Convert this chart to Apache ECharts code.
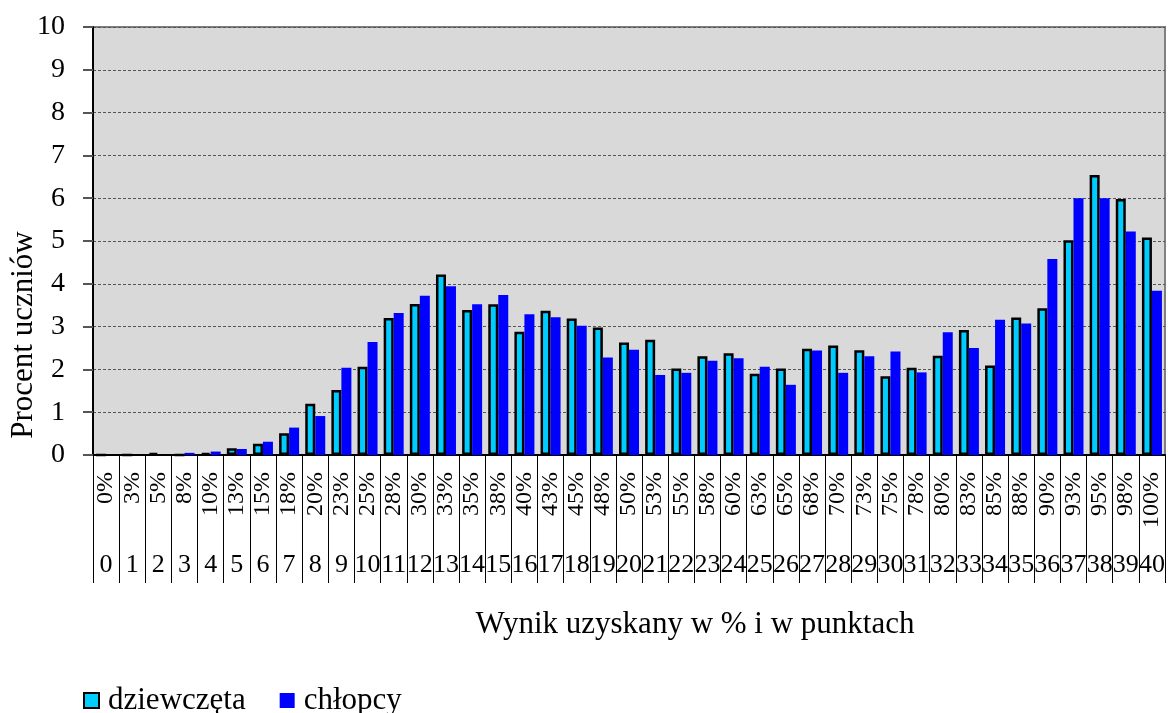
<!DOCTYPE html>
<html lang="pl">
<head>
    <meta charset="utf-8">
    <title>Wynik uzyskany w % i w punktach</title>
    <script src="https://cdn.jsdelivr.net/npm/echarts@6/dist/echarts.min.js"></script>
    <style>
        html, body { margin: 0; padding: 0; background: #fff; }
        #chart { width: 1168px; height: 713px; }
    </style>
</head>
<body>
<div id="chart"></div>

<script>
    // categories: percent score and points
    var percentLabels = ['0%','3%','5%','8%','10%','13%','15%','18%','20%','23%','25%','28%','30%','33%','35%','38%',
        '40%','43%','45%','48%','50%','53%','55%','58%','60%','63%','65%','68%','70%','73%','75%','78%',
        '80%','83%','85%','88%','90%','93%','95%','98%','100%'];
    var pointLabels = ['0','1','2','3','4','5','6','7','8','9','10','11','12','13','14','15','16','17','18','19','20',
        '21','22','23','24','25','26','27','28','29','30','31','32','33','34','35','36','37','38','39','40'];

    // percent of students
    var girls = [0, 0, 0.05, 0, 0.05, 0.16, 0.26, 0.51, 1.2, 1.52, 2.06, 3.2, 3.53, 4.22, 3.39, 3.52,
        2.88, 3.37, 3.19, 2.98, 2.63, 2.69, 2.02, 2.31, 2.38, 1.9, 2.02, 2.48, 2.56, 2.45, 1.84, 2.04,
        2.32, 2.92, 2.09, 3.21, 3.43, 5.02, 6.54, 5.98, 5.08];
    var boys = [0, 0, 0, 0.05, 0.08, 0.14, 0.31, 0.64, 0.91, 2.04, 2.64, 3.32, 3.72, 3.94, 3.52, 3.74,
        3.29, 3.22, 3.02, 2.28, 2.46, 1.87, 1.92, 2.2, 2.26, 2.06, 1.64, 2.44, 1.92, 2.31, 2.42, 1.93,
        2.87, 2.5, 3.16, 3.07, 4.58, 6.0, 6.0, 5.22, 3.84];

    var yTicks = [0, 1, 2, 3, 4, 5, 6, 7, 8, 9, 10];

    var serif = "'Liberation Serif', 'Times New Roman', serif";

    var myChart = echarts.init(document.getElementById('chart'));

    var option = {
        animation: false,
        textStyle: { fontFamily: serif, color: '#000' },
        grid: {
            left: 93,
            right: 3,
            top: 27,
            bottom: 258,
            show: true,
            backgroundColor: '#d9d9d9',
            borderColor: '#808080',
            borderWidth: 2
        },
        legend: {
            left: 78,
            top: 680,
            itemWidth: 15,
            itemHeight: 15,
            itemGap: 34,
            icon: 'rect',
            data: ['dziewczęta', 'chłopcy'],
            textStyle: { fontFamily: serif, fontSize: 31, color: '#000', padding: [0, 0, 0, 4] }
        },
        graphic: [
            {
                type: 'text',
                x: 24,
                y: 335,
                rotation: Math.PI / 2,
                style: {
                    text: 'Procent uczniów',
                    font: "31px 'Liberation Serif', serif",
                    fill: '#000',
                    align: 'center',
                    verticalAlign: 'middle'
                }
            },
            {
                type: 'text',
                x: 695,
                y: 625,
                style: {
                    text: 'Wynik uzyskany w % i w punktach',
                    font: "31px 'Liberation Serif', serif",
                    fill: '#000',
                    align: 'center',
                    verticalAlign: 'middle'
                }
            }
        ],
        xAxis: [
            {
                type: 'category',
                data: percentLabels,
                position: 'bottom',
                axisLine: { lineStyle: { color: '#000', width: 2 } },
                axisTick: { show: true, interval: 0, length: 128, lineStyle: { color: '#000', width: 1 } },
                axisLabel: { interval: 0, rotate: 90, margin: 17, fontSize: 24, color: '#000', fontFamily: serif }
            },
            {
                type: 'category',
                data: pointLabels,
                position: 'bottom',
                offset: 97,
                axisLine: { show: false },
                axisTick: { show: false },
                axisLabel: { interval: 0, margin: 0, fontSize: 26, color: '#000', fontFamily: serif }
            }
        ],
        yAxis: {
            type: 'value',
            min: yTicks[0],
            max: yTicks[yTicks.length - 1],
            interval: 1,
            axisLine: { show: true, lineStyle: { color: '#000', width: 2 } },
            axisTick: { show: true, length: 10, lineStyle: { color: '#555', width: 2 } },
            axisLabel: { margin: 28, fontSize: 28, color: '#000', fontFamily: serif },
            splitLine: { show: true, lineStyle: { color: '#555', type: [3, 2], width: 1 } }
        },
        series: [
            {
                name: 'dziewczęta',
                type: 'bar',
                xAxisIndex: 0,
                barWidth: 10,
                barGap: 0,
                data: girls,
                itemStyle: { color: '#00ccff', borderColor: '#000', borderWidth: 2.5 }
            },
            {
                name: 'chłopcy',
                type: 'bar',
                xAxisIndex: 0,
                barWidth: 10,
                barGap: 0,
                data: boys,
                itemStyle: { color: '#0000ff' }
            }
        ]
    };

    myChart.setOption(option);
</script>
</body>
</html>
